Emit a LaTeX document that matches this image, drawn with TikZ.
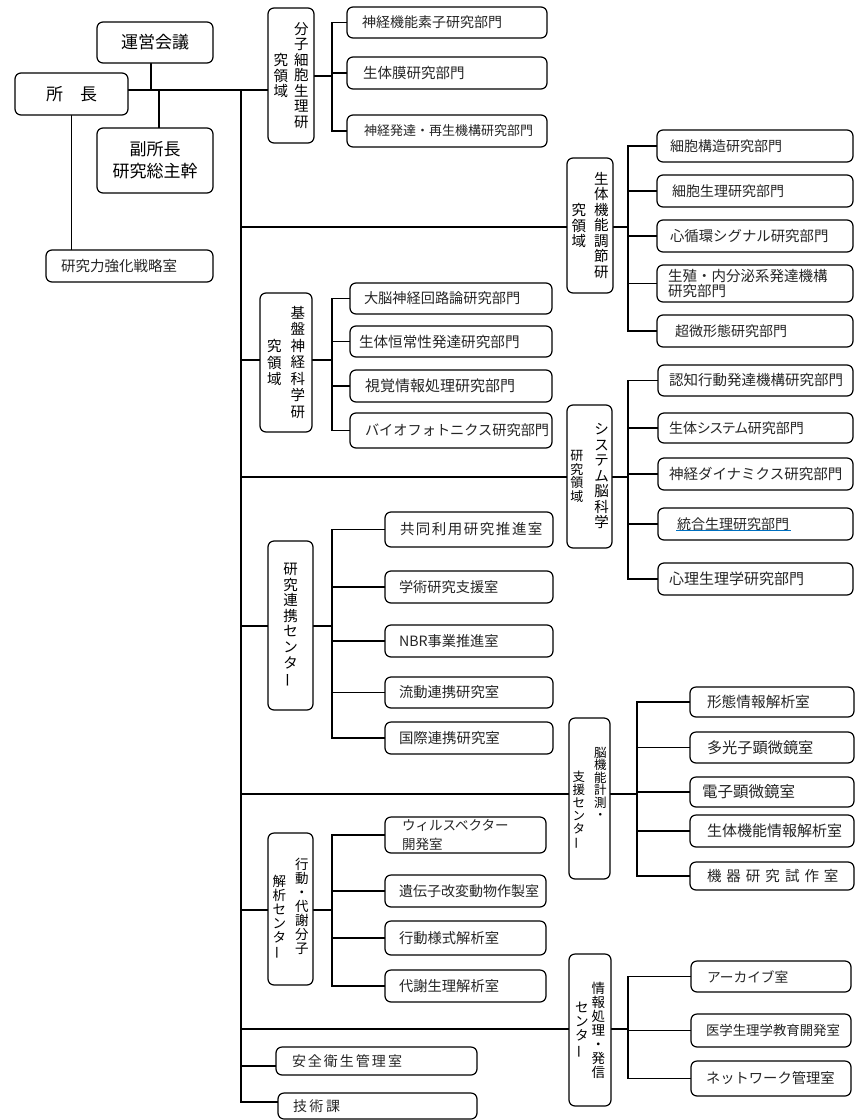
\documentclass[tikz,border=0pt]{standalone}
\usepackage{fontspec}
\setmainfont{Noto Sans CJK JP}
\newfontfamily\pfont{Noto Sans CJK JP}[RawFeature=+palt]
\usetikzlibrary{calc}
\definecolor{linkblue}{RGB}{0,112,192}
\pgfdeclarelayer{bg}
\pgfsetlayers{bg,main}
\ExplSyntaxOn
\NewDocumentCommand\spaced{mm}{\tl_map_inline:nn{#2}{##1\kern#1pt}\unkern}
\ExplSyntaxOff
\newcommand\vbar{\rotatebox[origin=c]{90}{ー}}
\tikzset{
  ln/.style={line width=1.2pt, line cap=rect},
  bxs/.style={draw, line width=1.2pt, rounded corners=6pt, fill=white, outer sep=0pt},
}
% horizontal-text box: name, x1, y1, x2, y2, inset, fontsize, text
\newcommand\hb[8]{%
  \pgfmathsetmacro\hbx{(#2+#4)/2}%
  \pgfmathsetmacro\hby{(#3+#5)/2}%
  \pgfmathsetmacro\hbh{#5-#3}%
  \pgfmathsetmacro\hbt{#4-#2-2*#6}%
  \pgfmathsetmacro\hbl{#7*1.1}%
  \node[bxs, minimum height=\hbh pt, text width=\hbt pt, inner xsep=#6pt, inner ysep=0pt,
        align=left, text=black!85, font=\fontsize{#7}{\hbl}\selectfont] (#1) at (\hbx,\hby) {#8};}
% centred box: [options] name, x1, y1, x2, y2, content
\newcommand\vb[7][]{%
  \pgfmathsetmacro\hbx{(#3+#5)/2}%
  \pgfmathsetmacro\hby{(#4+#6)/2}%
  \pgfmathsetmacro\hbh{#6-#4}%
  \pgfmathsetmacro\hbw{#5-#3}%
  \node[bxs, minimum height=\hbh pt, minimum width=\hbw pt, inner sep=0pt, align=center, #1] (#2) at (\hbx,\hby) {#7};}
% vertical column: fontsize, pitch, raise, chars
\newcommand\vc[4]{\raisebox{#3pt}{\parbox[c]{\dimexpr#1pt+2pt\relax}{\fontsize{#1}{#2}\selectfont\centering\lineskiplimit=-100pt\relax #4\par}}}
% group connectors: header, y-in, vx, y-out, first child, last child
\newcommand\grp[6]{%
  \coordinate (#1-in) at (241,#2);
  \draw[ln] (#1-in) -- (#1-in -| #1.west);
  \coordinate (#1-v) at (#3,#4);
  \draw[ln] (#1.east |- #1-v) -- (#1-v);
  \draw[ln] (#1-v |- #5.west) -- (#1-v |- #6.west);}
\newcommand\kid[2]{\draw[ln] (#1-v |- #2.west) -- (#2.west);}

\begin{document}
\begin{tikzpicture}[x=1pt,y=-1pt]
\useasboundingbox (0,0) rectangle (855,1120);
\begin{pgfonlayer}{bg}\fill[white] (0,0) rectangle (855,1120);\end{pgfonlayer}

% ---- top ----
\vb[font=\fontsize{17}{20}\selectfont]{unei}{97}{22}{213}{63}{運営会議}
\vb[font=\fontsize{17}{20}\selectfont]{shocho}{15}{73}{128}{115}{所　長}
\vb[font=\fontsize{17}{22}\selectfont]{fuku}{97}{128}{213}{193}{副所長\\研究総主幹}
\hb{kyoka}{46}{250}{213}{282}{15}{14.5}{研究力強化戦略室}

% ---- group 1 ----
\vb{bunshi}{268}{8}{314}{143}{\vc{14.5}{15.5}{0}{究\\領\\域}\hspace{4pt}\vc{14.5}{15.5}{0}{分\\子\\細\\胞\\生\\理\\研}}
\hb{c11}{347}{7}{547}{38}{15}{14}{神経機能素子研究部門}
\hb{c12}{347}{57}{547}{89}{16}{14.5}{生体膜研究部門}
\hb{c13}{347}{115}{547}{147}{17}{13}{神経発達・再生機構研究部門}

% ---- group 2 ----
\vb{seitai}{567}{158}{613}{293}{\vc{14.5}{15.5}{0}{究\\領\\域}\hspace{6pt}\vc{14.5}{15.5}{0}{生\\体\\機\\能\\調\\節\\研}}
\hb{c21}{657}{130}{853}{162}{13}{14}{細胞構造研究部門}
\hb{c22}{657}{175}{853}{207}{15}{14}{細胞生理研究部門}
\hb{c23}{657}{220}{853}{252}{13}{14.4}{心循環シグナル研究部門}
\hb{c24}{657}{265}{853}{302}{11}{14.5}{生殖・内分泌系発達機構\\研究部門}
\hb{c25}{657}{315}{853}{347}{18}{14}{超微形態研究部門}

% ---- group 3 ----
\vb{kiban}{260}{293}{312}{432}{\vc{14.5}{16.5}{0}{究\\領\\域}\hspace{7pt}\vc{14.5}{16.5}{0}{基\\盤\\神\\経\\科\\学\\研}}
\hb{c31}{350}{283}{552}{314}{14}{14.2}{大脳神経回路論研究部門}
\hb{c32}{350}{326}{552}{357}{9}{14.6}{生体恒常性発達研究部門}
\hb{c33}{350}{370}{552}{402}{15}{15}{視覚情報処理研究部門}
\hb{c34}{350}{413}{552}{448}{15}{14.2}{バイオフォトニクス研究部門}

% ---- group 4 ----
\vb{system}{567}{405}{612}{548}{\vc{13}{13.5}{0}{研\\究\\領\\域}\hspace{9pt}\vc{14.5}{15.5}{0}{シ\\ス\\テ\\ム\\脳\\科\\学}}
\hb{c41}{658}{365}{853}{396}{11}{14.5}{認知行動発達機構研究部門}
\hb{c42}{658}{413}{853}{443}{11}{14}{\pfont 生体システム研究部門}
\hb{c43}{658}{458}{853}{490}{11}{14.5}{神経ダイナミクス研究部門}
\hb{c44}{658}{508}{853}{540}{19}{14}{統合生理研究部門}
\hb{c45}{658}{563}{853}{595}{11}{15}{心理生理学研究部門}

% ---- group 5 ----
\vb{renkei}{268}{541}{313}{710}{\vc{14.5}{15.6}{0}{研\\究\\連\\携\\セ\\ン\\タ\\\vbar}}
\hb{c51}{385}{512}{553}{547}{15}{14.5}{\spaced{1.5}{共同利用研究推進室}}
\hb{c52}{385}{571}{553}{603}{14}{14.2}{学術研究支援室}
\hb{c53}{385}{625}{553}{657}{14}{14.2}{NBR事業推進室}
\hb{c54}{385}{677}{553}{708}{14}{14.3}{流動連携研究室}
\hb{c55}{385}{722}{553}{754}{14}{14.4}{国際連携研究室}

% ---- group 6 ----
\vb{noukinou}{569}{718}{610}{879}{\vc{12.5}{13}{-15}{支\\援\\セ\\ン\\タ\\\vbar}\hspace{7pt}\vc{12.5}{12.5}{12}{脳\\機\\能\\計\\測\\・}}
\hb{c61}{690}{687}{854}{717}{17}{14.7}{形態情報解析室}
\hb{c62}{690}{732}{854}{763}{17}{15.2}{多光子顕微鏡室}
\hb{c63}{690}{777}{854}{807}{12}{15.5}{電子顕微鏡室}
\hb{c64}{690}{815}{854}{847}{17}{15}{生体機能情報解析室}
\hb{c65}{690}{862}{854}{890}{17}{14.5}{\spaced{5}{機器研究試作室}}

% ---- group 7 ----
\vb{koudou}{268}{833}{313}{985}{\vc{13.5}{14}{-13}{解\\析\\セ\\ン\\タ\\\vbar}\hspace{7pt}\vc{13.5}{14}{-2}{行\\動\\・\\代\\謝\\分\\子}}
\hb{c71}{385}{817}{546}{853}{17}{13.5}{ウィルスベクター\\[4pt]開発室}
\hb{c72}{385}{875}{546}{907}{14}{14}{遺伝子改変動物作製室}
\hb{c73}{385}{921}{546}{955}{14}{14.3}{行動様式解析室}
\hb{c74}{385}{970}{546}{1002}{14}{14.3}{代謝生理解析室}

% ---- group 8 ----
\vb{joho}{569}{954}{611}{1106}{\vc{13.5}{14}{0}{セ\\ン\\タ\\\vbar}\hspace{1pt}\vc{13.5}{14}{0}{情\\報\\処\\理\\・\\発\\信}}
\hb{c81}{691}{961}{851}{992}{16}{13.7}{アーカイブ室}
\hb{c82}{691}{1014}{851}{1047}{15}{13.4}{医学生理学教育開発室}
\hb{c83}{691}{1061}{851}{1096}{15}{14.3}{ネットワーク管理室}

% ---- others ----
\hb{anzen}{276}{1047}{477}{1075}{16}{14}{\spaced{2}{安全衛生管理室}}
\hb{gijutsu}{278}{1093}{477}{1119}{15}{14}{\spaced{2.5}{技術課}}

% ---- connectors ----
\begin{pgfonlayer}{bg}
\coordinate (jA) at (151,90);
\coordinate (jB) at (159,90);
\coordinate (tTop) at (241,90);
\coordinate (tBot) at (241,1102);
\draw[ln] (shocho.east |- jA) -- (jA -| bunshi.west);
\draw[ln] (unei.south -| jA) -- (jA);
\draw[ln] (jB) -- (jB |- fuku.north);
\draw[ln] (shocho.south) -- (kyoka.north -| shocho.south);
\draw[ln] (tTop) -- (tBot);

\grp{bunshi}{90}{332}{76}{c11}{c13}
\kid{bunshi}{c11}\kid{bunshi}{c12}\kid{bunshi}{c13}

\grp{seitai}{227}{628}{227}{c21}{c25}
\kid{seitai}{c21}\kid{seitai}{c22}\kid{seitai}{c23}\kid{seitai}{c24}\kid{seitai}{c25}

\grp{kiban}{360}{332}{360}{c31}{c34}
\kid{kiban}{c31}\kid{kiban}{c32}\kid{kiban}{c33}\kid{kiban}{c34}

\grp{system}{477}{628}{477}{c41}{c45}
\kid{system}{c41}\kid{system}{c42}\kid{system}{c43}\kid{system}{c44}\kid{system}{c45}

\grp{renkei}{626}{332}{626}{c51}{c55}
\kid{renkei}{c51}\kid{renkei}{c52}\kid{renkei}{c53}\kid{renkei}{c54}\kid{renkei}{c55}

\grp{noukinou}{794}{637}{794}{c61}{c65}
\kid{noukinou}{c61}\kid{noukinou}{c62}\kid{noukinou}{c63}\kid{noukinou}{c64}\kid{noukinou}{c65}

\grp{koudou}{910}{332}{910}{c71}{c74}
\kid{koudou}{c71}\kid{koudou}{c72}\kid{koudou}{c73}\kid{koudou}{c74}

\grp{joho}{1029}{628}{1029}{c81}{c83}
\kid{joho}{c81}\kid{joho}{c82}\kid{joho}{c83}

\coordinate (anzen-in) at (241,1066);
\draw[ln] (anzen-in) -- (anzen-in -| anzen.west);
\draw[ln] (tBot) -- (tBot -| gijutsu.west);
\end{pgfonlayer}

% underline of the linked label
\draw[linkblue, line width=0.8pt] ($(c44.west)+(18,6)$) -- ++(115,0);
\end{tikzpicture}
\end{document}
